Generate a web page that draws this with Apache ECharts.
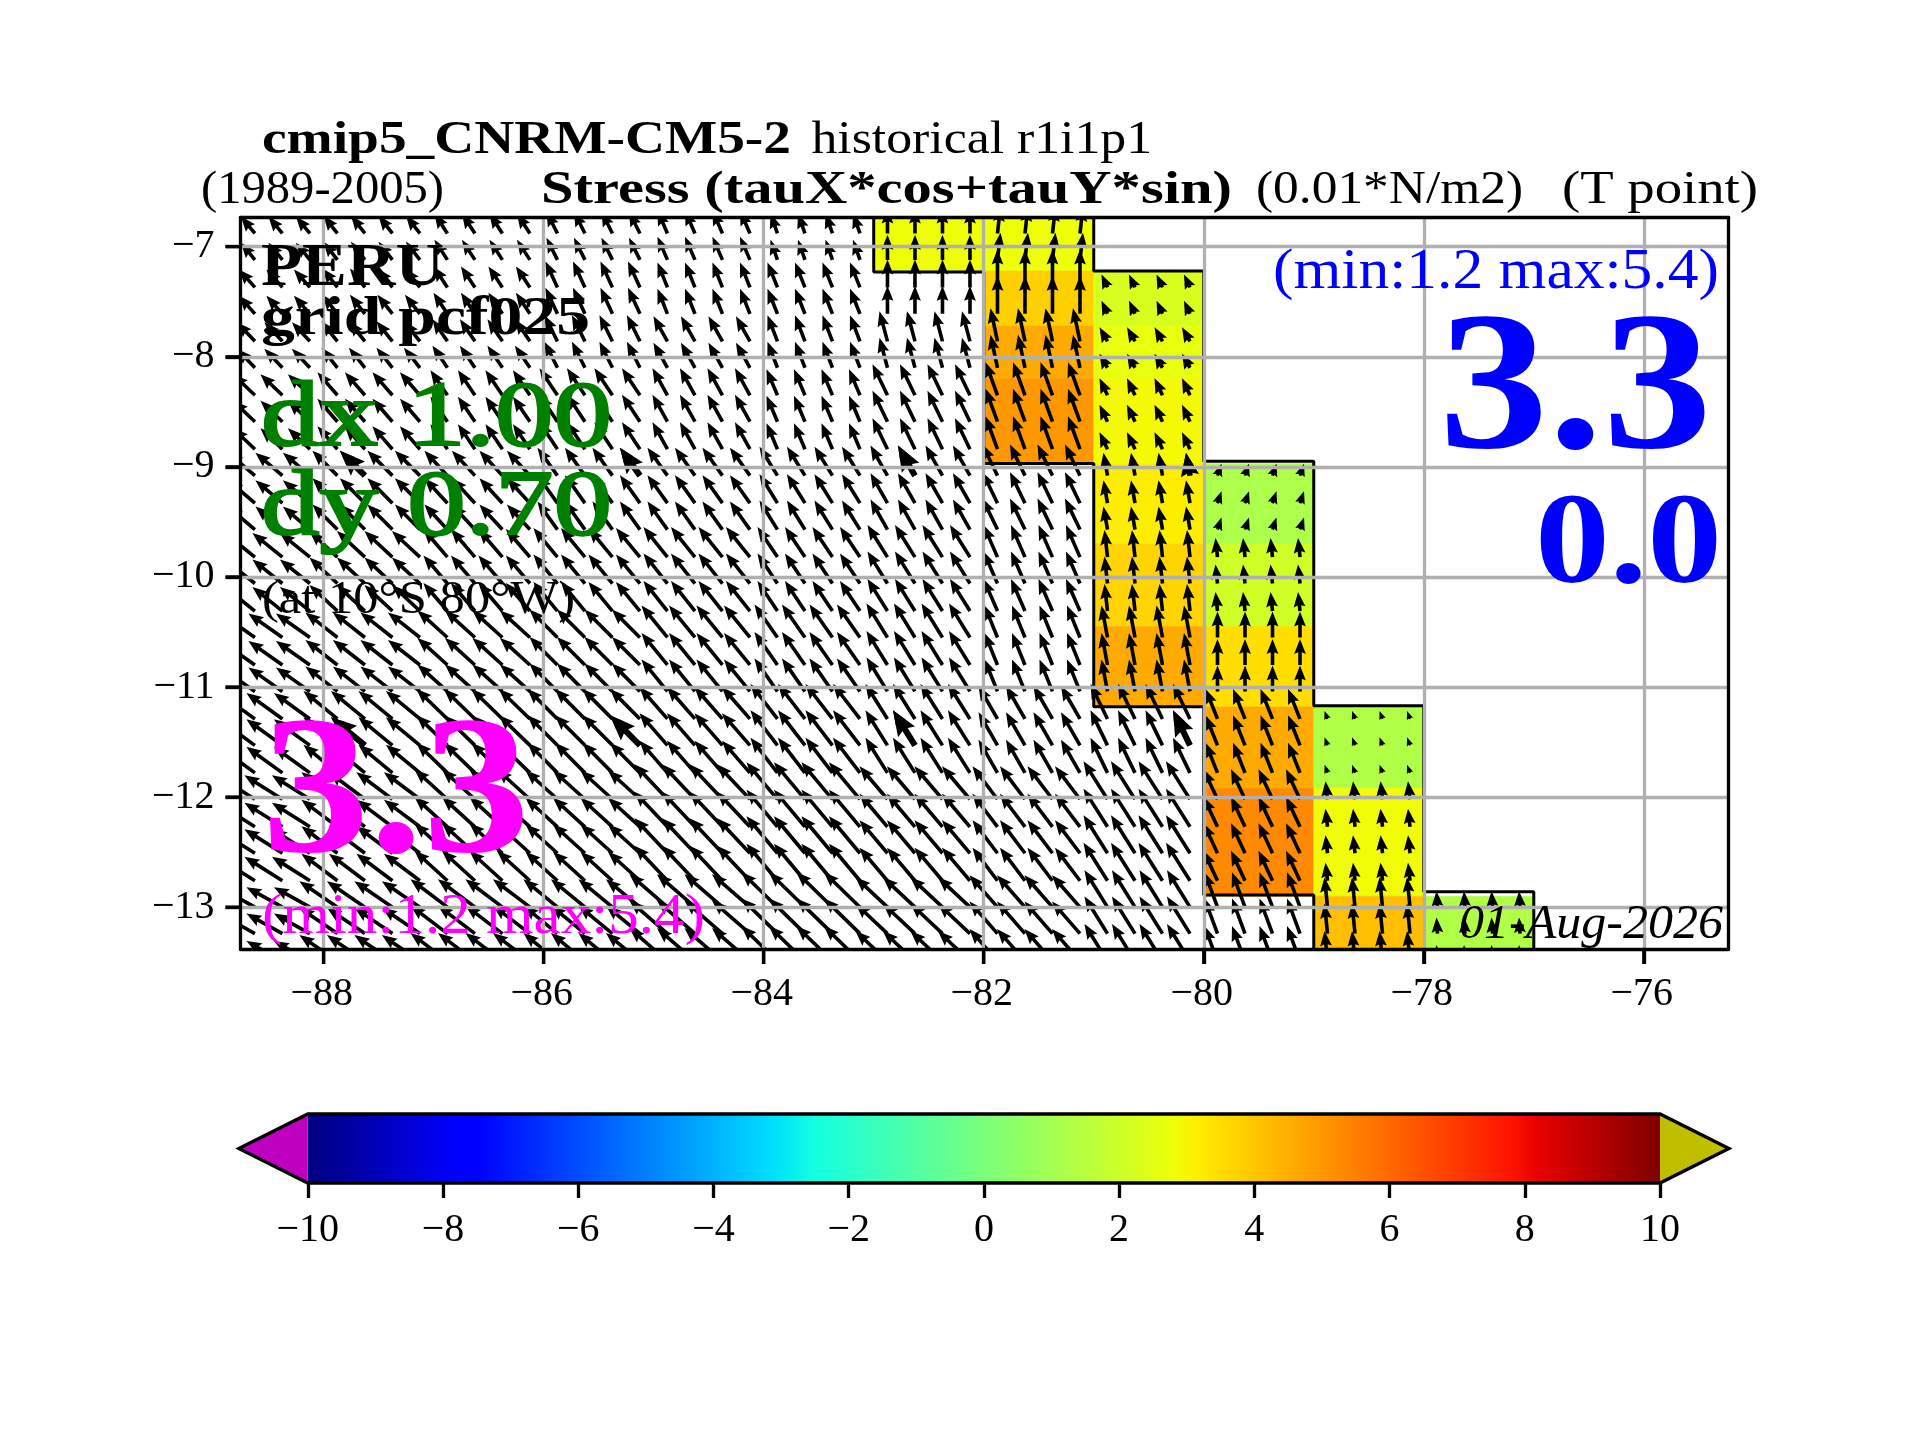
<!DOCTYPE html>
<html><head><meta charset="utf-8"><title>Stress</title>
<style>html,body{margin:0;padding:0;background:#fff}#c{width:1920px;height:1440px}</style>
<script src="https://cdn.jsdelivr.net/npm/echarts@6/dist/echarts.min.js"></script></head>
<body><div id="c"></div>
<script>
// ---------- tick labels ----------
const lonTicks = [-88,-86,-84,-82,-80,-78,-76];
const latTicks = [-7,-8,-9,-10,-11,-12,-13];
const cbarTicks = [-10,-8,-6,-4,-2,0,2,4,6,8,10];

// ---------- colour-bar stops (jet) ----------
const jetPos = [0,0.11,0.125,0.34,0.35,0.375,0.64,0.65,0.66,0.89,0.91,1];
const jetCol = ['#00007f','#0000ff','#0000ff','#00dbff','#00e6f7','#14ffe2','#eeff08','#f7f500','#ffec00','#ff1300','#e80000','#7f0000'];

// ---------- model cells: 1 degree columns, latitude bands ----------
const cellLon = [-89,-88,-87,-86,-85,-84,-83,-82,-81,-80,-79,-78];
const bandEdgeLat = [-6.73,-7.22,-7.72,-8.2,-8.97,-9.7,-10.45,-11.18,-11.92,-12.9,-13.38];
const _ = null;
// colour value (0.01 N/m2) per band x column
const stressVal = [
 [_,_,_,_,_,_,2.8,2.8,_,_,_,_],
 [_,_,_,_,_,_,_,3.8,2.25,_,_,_],
 [_,_,_,_,_,_,_,4.6,2.65,_,_,_],
 [_,_,_,_,_,_,_,5.0,2.9,_,_,_],
 [_,_,_,_,_,_,_,_,3.15,1.2,_,_],
 [_,_,_,_,_,_,_,_,3.7,2.05,_,_],
 [_,_,_,_,_,_,_,_,4.6,3.5,_,_],
 [_,_,_,_,_,_,_,_,_,4.6,1.3,_],
 [_,_,_,_,_,_,_,_,_,5.3,2.85,_],
 [_,_,_,_,_,_,_,_,_,_,4.15,1.3]
];
// vector components per band x column
const tauX = [
 [-1.4,-1.4,-1.3,-1.1,-1.0,-0.7,0.0,0.3,_,_,_,_],
 [-1.6,-1.5,-1.4,-1.2,-1.0,-1.0,0.0,0.0,-0.6,_,_,_],
 [-1.8,-1.6,-1.5,-1.3,-1.4,-1.0,-0.8,-0.7,-0.8,_,_,_],
 [-2.2,-2.0,-1.7,-1.8,-1.5,-1.1,-1.5,-1.2,-0.8,_,_,_],
 [-2.7,-2.5,-2.3,-2.0,-2.0,-1.8,-1.7,-1.5,-0.4,0.4,_,_],
 [-3.0,-2.8,-2.4,-2.4,-2.4,-2.0,-2.0,-1.4,-0.3,-0.2,_,_],
 [-3.4,-3.2,-3.0,-2.8,-2.6,-2.3,-2.1,-1.3,-0.6,0.0,_,_],
 [-3.6,-3.4,-3.1,-3.0,-2.8,-2.7,-2.2,-1.9,-1.7,-1.2,-0.3,_],
 [-3.8,-3.6,-3.3,-3.2,-3.3,-3.1,-2.8,-2.5,-2.4,-1.4,-0.2,_],
 [-3.6,-3.8,-3.7,-3.4,-3.8,-3.6,-3.2,-2.8,-2.3,-1.3,-0.3,-0.1]
];
const tauY = [
 [1.7,1.8,2.0,2.2,2.3,2.0,2.5,2.7,_,_,_,_],
 [1.8,1.9,2.1,2.6,2.5,2.5,2.8,3.8,1.3,_,_,_],
 [1.9,2.0,2.2,2.6,2.5,2.6,3.0,3.3,1.4,_,_,_],
 [2.1,2.3,2.5,2.7,2.7,2.6,3.1,3.3,1.7,_,_,_],
 [2.3,2.5,2.5,2.8,2.8,2.9,3.0,3.1,2.3,1.2,_,_],
 [2.4,2.6,2.8,2.9,3.0,3.0,3.2,3.2,2.7,1.9,_,_],
 [2.4,2.5,2.7,2.8,3.2,3.3,3.4,3.2,3.2,2.6,_,_],
 [2.6,2.8,3.0,3.0,3.2,3.5,3.5,3.3,3.5,3.0,0.8,_],
 [2.4,2.7,3.0,2.9,3.5,3.7,3.3,3.3,3.8,3.0,1.8,_],
 [2.0,2.6,2.8,2.8,3.3,3.5,3.0,3.2,3.7,3.5,3.0,1.6]
];
// arrow tails: rows of the fine grid and the band each row samples
const rowLat = [-6.88,-7.12,-7.37,-7.61,-7.86,-8.10,-8.35,-8.59,-8.84,-9.08,-9.33,-9.57,-9.82,-10.06,-10.31,-10.55,-10.80,-11.04,-11.29,-11.53,-11.78,-12.02,-12.27,-12.51,-12.76,-13.00,-13.24,-13.49];
const rowBand = [0,0,1,1,2,2,3,3,3,4,4,4,5,5,5,6,6,6,7,7,7,8,8,8,8,9,9,9];
const subLon = [0.125,0.375,0.625,0.875];
// coarse overlay of heavier arrows
const coarseLon = [-87.625,-85.125,-82.625,-80.125];
const coarseRow = [9,19];
// land-mask outline
const outlineA = [[-83,-6.73],[-83,-7.23],[-82,-7.23],[-82,-8.97],[-81,-8.97],[-81,-11.18],[-80,-11.18],[-80,-12.89],[-79,-12.89],[-79,-13.38]];
const outlineB = [[-81,-6.73],[-81,-7.22],[-80,-7.22],[-80,-8.95],[-79,-8.95],[-79,-11.17],[-78,-11.17],[-78,-12.86],[-77,-12.86],[-77,-13.38]];

// ---------- helpers ----------
const FONT = '"Liberation Serif"';
const LW = 3.3;
const TICK = 15;
const DEG_PER_UNIT = 0.0909;
const lonRange={min:-88.756,max:-75.23}, latRange={min:-13.38,max:-6.735};
function jet(v){
  const t=(v+10)/20;
  for(let i=1;i<jetPos.length;i++){ if(t<=jetPos[i]) return echarts.color.lerp((t-jetPos[i-1])/(jetPos[i]-jetPos[i-1]),[jetCol[i-1],jetCol[i]]); }
  return jetCol[jetCol.length-1];
}
const minus = v => String(v).replace('-','\u2212');

const cells=[];
stressVal.forEach((row,b)=>row.forEach((v,c)=>{ if(v!==null) cells.push([cellLon[c],cellLon[c]+1,bandEdgeLat[b],bandEdgeLat[b+1],v]); }));
const arrows=[];
rowLat.forEach((lat,k)=>{ const b=rowBand[k];
  cellLon.forEach((lon,c)=>{ if(tauX[b][c]===null) return;
    subLon.forEach(o=>arrows.push([lon+o,lat,tauX[b][c],tauY[b][c],1])); }); });
const coarse=[];
coarseRow.forEach(k=>coarseLon.forEach(lon=>{ const b=rowBand[k],c=cellLon.indexOf(Math.floor(lon));
  coarse.push([lon,rowLat[k],tauX[b][c],tauY[b][c],1.7]); }));

function renderCell(p,api){
  const a=api.coord([api.value(0),api.value(2)]), b=api.coord([api.value(1),api.value(3)]);
  const col=jet(api.value(4));
  return {type:'rect',shape:{x:a[0],y:a[1],width:b[0]-a[0],height:b[1]-a[1]},style:{fill:col,stroke:col,lineWidth:0.5}};
}
function renderArrow(p,api){
  const lon=api.value(0),lat=api.value(1);
  const t=api.coord([lon,lat]), h=api.coord([lon+api.value(2)*DEG_PER_UNIT,lat+api.value(3)*DEG_PER_UNIT]);
  const dx=h[0]-t[0],dy=h[1]-t[1],L=Math.hypot(dx,dy)||1,m=api.value(4);
  let w=1.8*m,hw=5.9*m,hl=15*m,ha=13.4*m;
  if(L<hl){const r=L/hl;w*=r;hw*=r;hl*=r;ha*=r;}
  const ux=dx/L,uy=dy/L,nx=-uy,ny=ux;
  const P=(s,n)=>[t[0]+ux*s+nx*n,t[1]+uy*s+ny*n];
  return {type:'polygon',shape:{points:[P(0,w),P(L-ha,w),P(L-hl,hw),P(L,0),P(L-hl,-hw),P(L-ha,-w),P(0,-w)]},style:{fill:'#000'}};
}
function renderCbar(p,api){
  const a=api.coord([-10,1]), b=api.coord([10,0]);
  const tipL=api.coord([-11.02,0.5]), tipR=api.coord([11.02,0.5]);
  const stops=jetPos.map((o,i)=>({offset:o,color:jetCol[i]}));
  return {type:'group',children:[
    {type:'rect',shape:{x:a[0],y:a[1],width:b[0]-a[0],height:b[1]-a[1]},style:{fill:new echarts.graphic.LinearGradient(0,0,1,0,stops)}},
    {type:'polygon',shape:{points:[[a[0],a[1]],[tipL[0],tipL[1]],[a[0],b[1]]]},style:{fill:'#bf00bf'}},
    {type:'polygon',shape:{points:[[b[0],a[1]],[tipR[0],tipR[1]],[b[0],b[1]]]},style:{fill:'#bfbf00'}},
    {type:'polygon',shape:{points:[[a[0],a[1]],[b[0],a[1]],[tipR[0],tipR[1]],[b[0],b[1]],[a[0],b[1]],[tipL[0],tipL[1]]]},style:{fill:'none',stroke:'#000',lineWidth:LW}}
  ]};
}

// ---------- text, fitted to the width measured in the reference ----------
const ctx=document.createElement('canvas').getContext('2d');
function label(str,x0,x1,base,size,fill,font,thick){
  const f=(font||'')+' '+size+'px '+FONT;
  ctx.font=f;
  const sx=(x1-x0)/ctx.measureText(str).width;
  const style={text:str,x:0,y:0,font:f,fill:fill,align:'left',verticalAlign:'middle'};
  if(thick){style.stroke=fill;style.lineWidth=thick;}
  return {type:'text',x:x0,y:base-0.265*size,scaleX:sx,z:50,silent:true,style};
}
const texts=[
 label('cmip5_CNRM-CM5-2',262,791,153,46,'#000','bold'),
 label('historical r1i1p1',811.5,1152,153,46,'#000'),
 label('(1989-2005)',201,444,203,46,'#000'),
 label('Stress (tauX*cos+tauY*sin)',541,1232,203,46,'#000','bold'),
 label('(0.01*N/m2)',1256,1523,203,46,'#000'),
 label('(T point)',1562,1758,203,46,'#000'),
 label('PERU',261,444,285,62,'#000','bold'),
 label('grid pcf025',261,590,334,55,'#000','bold'),
 label('dx 1.00',261,612,445,94,'#008000','',2.2),
 label('dy 0.70',261,612,534,94,'#008000','',2.2),
 label('(at 10\u00b0S 80\u00b0W)',262,575,613,46,'#000'),
 label('3.3',262,530,852,197,'#ff00ff','bold'),
 label('(min:1.2 max:5.4)',262,705,933,56,'#ff00ff'),
 label('(min:1.2 max:5.4)',1273,1719,288,56,'#0000ff'),
 label('3.3',1439,1712,448,197,'#0000ff','bold'),
 label('0.0',1535,1722,583,130,'#0000ff','bold'),
 label('01-Aug-2026',1459,1723,938,48,'#000','italic')
];

// ---------- axes ----------
const labelStyle={fontFamily:FONT,fontSize:40,color:'#000'};
const tickOn={show:true,length:TICK,lineStyle:{color:'#000',width:LW}};
const lineOn={show:true,onZero:false,lineStyle:{color:'#000',width:LW}};
const xMain={type:'value',gridIndex:0,position:'bottom',z:10,...lonRange,
  axisLine:lineOn,axisTick:{...tickOn,customValues:lonTicks},
  axisLabel:{...labelStyle,margin:25,padding:[0,4,0,0],customValues:lonTicks,formatter:minus,showMinLabel:true,showMaxLabel:true},
  splitLine:{show:true,lineStyle:{color:'#b0b0b0',width:LW}}};
const yMain={type:'value',gridIndex:0,position:'left',z:10,...latRange,
  axisLine:lineOn,axisTick:{...tickOn,customValues:latTicks},
  axisLabel:{...labelStyle,margin:26,customValues:latTicks,formatter:minus},
  splitLine:{show:true,lineStyle:{color:'#b0b0b0',width:LW}}};
const hiddenBits={axisTick:{show:false},axisLabel:{show:false},splitLine:{show:false},axisLine:lineOn};

const option={
  backgroundColor:'#fff',animation:false,
  grid:[
    {left:240.5,top:217.5,width:1488,height:731.5,containLabel:false},
    {left:307.8,top:1114,width:1352.2,height:69,containLabel:false}
  ],
  xAxis:[xMain,
    {type:'value',gridIndex:0,position:'top',z:11,...lonRange,...hiddenBits},
    {type:'value',gridIndex:1,position:'bottom',min:-10,max:10,interval:2,z:10,
     axisLine:{show:false},axisTick:tickOn,splitLine:{show:false},
     axisLabel:{...labelStyle,margin:27,formatter:minus,customValues:cbarTicks}}],
  yAxis:[yMain,
    {type:'value',gridIndex:0,position:'right',z:11,...latRange,...hiddenBits},
    {type:'value',gridIndex:1,min:0,max:1,show:false}],
  series:[
    {type:'custom',name:'cells',xAxisIndex:0,yAxisIndex:0,z:1,silent:true,clip:true,renderItem:renderCell,data:cells},
    {type:'custom',name:'arrows',xAxisIndex:0,yAxisIndex:0,z:2,silent:true,clip:true,progressive:0,renderItem:renderArrow,data:arrows},
    {type:'custom',name:'coarse',xAxisIndex:0,yAxisIndex:0,z:2,silent:true,clip:true,renderItem:renderArrow,data:coarse},
    {type:'line',name:'a',xAxisIndex:0,yAxisIndex:0,z:3,silent:true,symbol:'none',data:outlineA,lineStyle:{color:'#000',width:3}},
    {type:'line',name:'b',xAxisIndex:0,yAxisIndex:0,z:3,silent:true,symbol:'none',data:outlineB,lineStyle:{color:'#000',width:3}},
    {type:'custom',name:'cbar',xAxisIndex:2,yAxisIndex:2,z:2,silent:true,clip:false,renderItem:renderCbar,data:[[0,0.5]]}
  ],
  graphic:{elements:texts}
};
const chart=echarts.init(document.getElementById('c'),null,{renderer:'canvas',width:1920,height:1440});
chart.setOption(option);
// tick marks placed through the chart's own scales, drawn on top of everything
const axisSel={xAxisIndex:0,yAxisIndex:0};
const tickLine=(a,b)=>({type:'line',z:60,silent:true,shape:{x1:a[0],y1:a[1],x2:b[0],y2:b[1]},style:{stroke:'#000',lineWidth:LW}});
const lonLines=lonTicks.map(v=>{const p=chart.convertToPixel(axisSel,[v,latRange.min]);return tickLine(p,[p[0],p[1]+TICK]);});
const latLines=latTicks.map(v=>{const p=chart.convertToPixel(axisSel,[lonRange.min,v]);return tickLine(p,[p[0]-TICK,p[1]]);});
chart.setOption({graphic:{elements:texts.concat(lonLines,latLines)}});
</script></body></html>
